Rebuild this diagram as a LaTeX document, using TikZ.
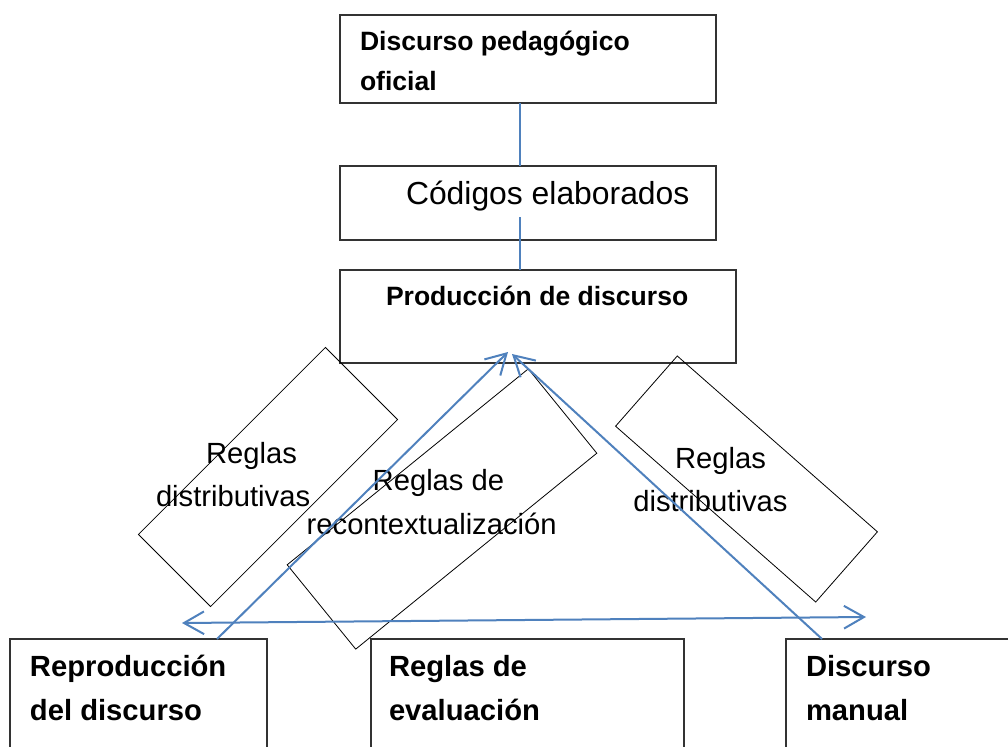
\documentclass[tikz,border=0pt]{standalone}
\usepackage{fontspec}
\setmainfont{Liberation Sans}
\usetikzlibrary{arrows.meta,calc}
\definecolor{arrowblue}{RGB}{79,129,189}
\begin{document}
\begin{tikzpicture}[x=0.75pt,y=-0.75pt,
  box/.style={draw=black!80, line width=0.8pt, inner sep=0pt, outer sep=0pt},
  rbox/.style={draw=black, line width=0.6pt, inner sep=0pt, outer sep=0pt},
  lbl/.style={anchor=base west, inner sep=0pt, outer sep=0pt, align=left},
  topfont/.style={font=\fontsize{19.9}{30}\selectfont\bfseries},
  botfont/.style={font=\fontsize{21.9}{33}\selectfont\bfseries},
  rfont/.style={font=\fontsize{21.9}{32.5}\selectfont},
  conn/.style={draw=arrowblue, line width=1.2pt},
  tip/.style={Straight Barb[length=15pt,width=17pt]},
  arr/.style={draw=arrowblue, line width=1.5pt, -{Straight Barb[length=15pt,width=17pt]}},
  darr/.style={draw=arrowblue, line width=1.5pt, {Straight Barb[length=15pt,width=17pt]}-{Straight Barb[length=15pt,width=17pt]}}]
\useasboundingbox (0,0) rectangle (1008,747);
\clip (0,0) rectangle (1008,747);
\fill[white] (0,0) rectangle (1008,747);

% upper boxes
\node[box, minimum width=282pt, minimum height=66pt] (dpo) at (528,59) {};
\node[box, minimum width=282pt, minimum height=55.5pt] (cod) at (528,203) {};
\node[box, minimum width=297pt, minimum height=69.75pt] (prod) at (538,316.5) {};

% bottom boxes
\node[box, minimum width=192.75pt, minimum height=120.75pt] (repro) at (138.5,719.5) {};
\node[box, minimum width=234.75pt, minimum height=120.75pt] (eval) at (527.5,719.5) {};
\node[box, minimum width=190.5pt, minimum height=120.75pt] (manual) at (913,719.5) {};

% rotated boxes
\node[rbox, minimum width=198.4pt, minimum height=76.5pt, rotate=45] (rd1) at (268,477) {};
\node[rbox, minimum width=233pt, minimum height=81.5pt, rotate=39.1] (rrc) at (442,509) {};
\node[rbox, minimum width=199.8pt, minimum height=70.1pt, rotate=-41.3] (rd2) at (746.5,479) {};

% texts (anchored at the baseline of the last line)
\node[lbl, topfont] (tdpo) at (360,90) {Discurso pedagógico\\oficial};
\node[lbl, font=\fontsize{23.9}{30}\selectfont] (tcod) at (406,204) {Códigos elaborados};
\node[lbl, topfont] (tprod) at (386,305) {Producción de discurso};
\node[lbl, botfont] (trepro) at (30,720) {Reproducción\\del discurso};
\node[lbl, botfont] (teval) at (389,720) {Reglas de\\evaluación};
\node[lbl, botfont] (tman) at (806,720) {Discurso\\manual};
\node[lbl, rfont] (trd1) at (156,506.7) {\hspace*{37.5pt}Reglas\\distributivas};
\node[lbl, font=\fontsize{21.9}{32.3}\selectfont] (trrc) at (306.7,534) {\hspace*{49.5pt}Reglas de\\recontextualización};
\node[lbl, rfont] (trd2) at (633.3,511.7) {\hspace*{31.3pt}Reglas\\distributivas};

% connectors
\coordinate (c1a) at (520,103);
\coordinate (c1b) at (520,166);
\coordinate (c2a) at (520,217);
\coordinate (c2b) at (520,270);
\draw[conn] (c1a) -- (c1b);
\draw[conn] (c2a) -- (c2b);

\coordinate (a1s) at (217,639);
\coordinate (a1e) at (508,352);
\coordinate (a2s) at (822,639);
\coordinate (a2e) at (512,354);
\coordinate (hl) at (182,623);
\coordinate (hr) at (866,617);
\draw[arr] (a1s) -- (a1e);
\draw[arr] (a2s) -- (a2e);
\draw[darr] (hl) -- (hr);
\end{tikzpicture}
\end{document}
